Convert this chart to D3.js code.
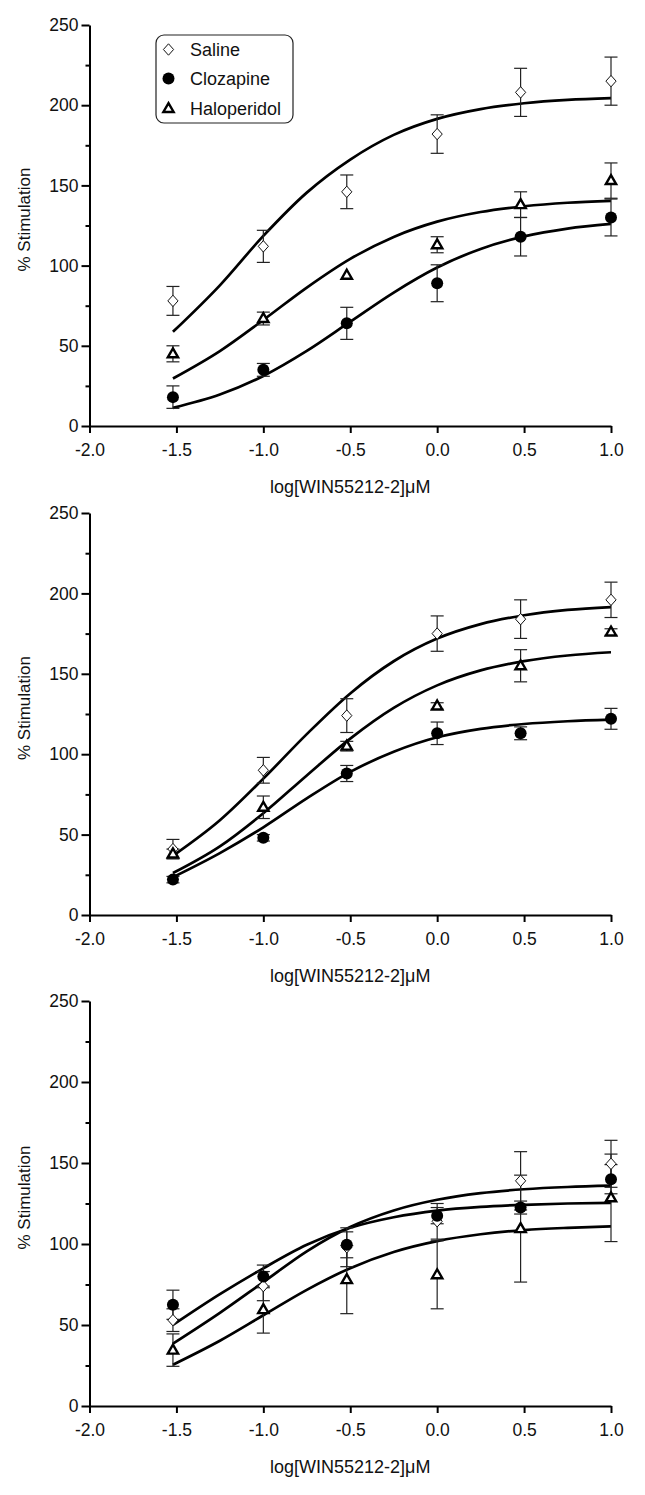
<!DOCTYPE html>
<html>
<head>
<meta charset="utf-8">
<script src="https://cdn.jsdelivr.net/npm/d3@7"></script>
<style>
  html, body { margin: 0; padding: 0; background: #fff; }
  svg { display: block; }
  text { font-family: "Liberation Sans", Arial, sans-serif; fill: #111; }
</style>
</head>
<body>
<svg id="chart" width="645" height="1495"></svg>
<script>
// ---------- data ----------
const seriesNames = ["Saline", "Clozapine", "Haloperidol"];
const logDose = [-1.52, -1.0, -0.52, 0.0, 0.48, 1.0];
const curveX = [-1.52, -1.25, -1.0, -0.75, -0.5, -0.25, 0.0, 0.25, 0.5, 0.75, 1.0];
const xTicks = [-2.0, -1.5, -1.0, -0.5, 0.0, 0.5, 1.0];
const yTicks = [0, 50, 100, 150, 200, 250];
const yMinorTicks = [25, 75, 125, 175, 225];
const xLabel = "log[WIN55212-2]\u03bcM";
const yLabel = "% Stimulation";

// panel 1
const salineMean1 = [78, 112, 146, 182, 208, 215];
const salineErr1  = [9, 10, 10.5, 12, 15, 15];
const clozMean1   = [18, 35, 64, 89, 118, 130];
const clozErr1    = [7, 4, 10, 11.5, 12, 11.5];
const haloMean1   = [45, 67, 94, 113, 138, 153];
const haloErr1    = [5, 4, 0, 5, 8, 11];
const salineFit1  = [58.7, 87.7, 118.5, 145.5, 166.1, 181.5, 191.5, 197.6, 201.2, 203.3, 204.4];
const clozFit1    = [11.3, 19.6, 31.2, 46.8, 65.0, 83.2, 98.8, 110.4, 118.2, 123.1, 126.0];
const haloFit1    = [29.6, 46.7, 66.1, 86.3, 104.2, 117.9, 127.4, 133.4, 137.0, 139.2, 140.4];

// panel 2
const salineMean2 = [41, 90, 124, 175, 184, 196];
const salineErr2  = [6, 8, 10.5, 11, 12, 11];
const clozMean2   = [22, 48, 88, 113, 113, 122];
const clozErr2    = [2, 2, 5, 7, 4, 6.5];
const haloMean2   = [38, 67, 105, 130, 155, 176];
const haloErr2    = [3, 7, 3, 2, 10, 2];
const salineFit2  = [36.8, 58.9, 84.8, 112.5, 137.8, 157.8, 171.9, 180.9, 186.4, 189.7, 191.5];
const clozFit2    = [23.5, 38.5, 54.5, 72.5, 89.0, 101.5, 110.5, 115.8, 118.8, 120.5, 121.5];
const haloFit2    = [26.1, 42.7, 63.3, 86.8, 109.7, 128.8, 142.8, 152.1, 157.9, 161.4, 163.4];

// panel 3
const salineMean3 = [53, 74, 98, 114, 139, 149.5];
const salineErr3  = [7, 9, 12, 11, 18, 14.5];
const clozMean3   = [62.5, 80, 99.5, 117.5, 122.5, 140];
const clozErr3    = [9, 7, 8, 5, 4, 9];
const haloMean3   = [34.5, 59.5, 78, 81, 109.5, 128.5];
const haloErr3    = [10, 14.5, 21, 21, 33, 27];
const salineFit3  = [38.5, 57.5, 76.5, 95.5, 110.5, 120.7, 127.3, 131.4, 133.8, 135.2, 136.0];
const clozFit3    = [50.0, 69.0, 85.0, 99.5, 110.0, 116.5, 120.6, 122.9, 124.2, 125.0, 125.4];
const haloFit3    = [25.5, 40.3, 56.0, 71.7, 85.1, 95.1, 101.8, 106.0, 108.6, 110.0, 110.9];

// ---------- layout ----------
const panels = [
  { top: 25,   bottom: 426,  legend: true,
    means: [salineMean1, clozMean1, haloMean1], errs: [salineErr1, clozErr1, haloErr1], fits: [salineFit1, clozFit1, haloFit1] },
  { top: 513,  bottom: 915,  legend: false,
    means: [salineMean2, clozMean2, haloMean2], errs: [salineErr2, clozErr2, haloErr2], fits: [salineFit2, clozFit2, haloFit2] },
  { top: 1001, bottom: 1406, legend: false,
    means: [salineMean3, clozMean3, haloMean3], errs: [salineErr3, clozErr3, haloErr3], fits: [salineFit3, clozFit3, haloFit3] }
];

const svg = d3.select("#chart");
const x = d3.scaleLinear().domain([-2, 1]).range([89.5, 611]);

// marker drawing
function drawMarker(g, idx, cx, cy) {
  if (idx === 0) {
    g.append("path")
      .attr("d", d3.symbol(d3.symbolSquare, 52)())
      .attr("transform", `translate(${cx},${cy}) scale(1,1.12) rotate(45)`)
      .attr("fill", "#fff").attr("stroke", "#111").attr("stroke-width", 1)
      .attr("vector-effect", "non-scaling-stroke");
  } else if (idx === 1) {
    g.append("circle").attr("cx", cx).attr("cy", cy).attr("r", 6)
      .attr("fill", "#000");
  } else {
    g.append("path")
      .attr("d", d3.symbol(d3.symbolTriangle, 46)())
      .attr("transform", `translate(${cx},${cy + 0.5})`)
      .attr("fill", "#fff").attr("stroke", "#000").attr("stroke-width", 2.4)
      .attr("stroke-linejoin", "miter");
  }
}

panels.forEach(p => {
  const y = d3.scaleLinear().domain([0, 250]).range([p.bottom, p.top]);
  const g = svg.append("g");

  // axes
  const yAxis = d3.axisLeft(y).tickValues(yTicks).tickSize(8).tickSizeOuter(0).tickPadding(3).tickFormat(d => d);
  const yAx = g.append("g").attr("transform", `translate(${x(-2)},0)`).call(yAxis);
  const yMin = g.append("g").attr("transform", `translate(${x(-2)},0)`)
    .call(d3.axisLeft(y).tickValues(yMinorTicks).tickSize(4).tickSizeOuter(0).tickFormat(""));
  yMin.select(".domain").remove();

  const xAxis = d3.axisBottom(x).tickValues(xTicks).tickSize(7).tickSizeOuter(0).tickPadding(11).tickFormat(d => d.toFixed(1));
  const xAx = g.append("g").attr("transform", `translate(0,${p.bottom})`).call(xAxis);

  [yAx, yMin, xAx].forEach(a => {
    a.selectAll("path,line").attr("stroke", "#000").attr("stroke-width", 2);
    a.selectAll("text").attr("font-size", 17.5).attr("fill", "#111")
      .attr("font-family", '"Liberation Sans", Arial, sans-serif');
  });

  // axis titles
  g.append("text")
    .attr("x", (x(-2) + x(1)) / 2).attr("y", p.bottom + 67)
    .attr("text-anchor", "middle").attr("font-size", 18)
    .text(xLabel);
  g.append("text")
    .attr("transform", `translate(24,${(p.top + p.bottom) / 2 - 6}) rotate(-90)`)
    .attr("text-anchor", "middle").attr("dominant-baseline", "central").attr("font-size", 17)
    .text(yLabel);

  // fitted curves
  const line = d3.line().x((d, i) => x(curveX[i])).y(d => y(d)).curve(d3.curveMonotoneX);
  p.fits.forEach(f => {
    g.append("path").attr("d", line(f))
      .attr("fill", "none").attr("stroke", "#000").attr("stroke-width", 2.7);
  });

  // error bars
  p.means.forEach((m, si) => {
    m.forEach((v, i) => {
      const e = p.errs[si][i];
      if (!e) return;
      const cx = x(logDose[i]);
      const eb = g.append("g").attr("stroke", "#222").attr("stroke-width", 1.2);
      eb.append("line").attr("x1", cx).attr("x2", cx).attr("y1", y(v - e)).attr("y2", y(v + e));
      eb.append("line").attr("x1", cx - 6.5).attr("x2", cx + 6.5).attr("y1", y(v + e)).attr("y2", y(v + e));
      eb.append("line").attr("x1", cx - 6.5).attr("x2", cx + 6.5).attr("y1", y(v - e)).attr("y2", y(v - e));
    });
  });

  // markers
  p.means.forEach((m, si) => {
    m.forEach((v, i) => drawMarker(g, si, x(logDose[i]), y(v)));
  });

  // legend
  if (p.legend) {
    const lg = g.append("g");
    lg.append("rect").attr("x", 156).attr("y", 35).attr("width", 137).attr("height", 88)
      .attr("rx", 8).attr("ry", 8).attr("fill", "#fff").attr("stroke", "#222").attr("stroke-width", 1.2);
    const rowY = [49.5, 78.5, 108.5];
    seriesNames.forEach((name, i) => {
      drawMarker(lg, i, 168.5, rowY[i]);
      lg.append("text").attr("x", 190).attr("y", rowY[i]).attr("dominant-baseline", "central")
        .attr("font-size", 18).text(name);
    });
  }
});
</script>
</body>
</html>
